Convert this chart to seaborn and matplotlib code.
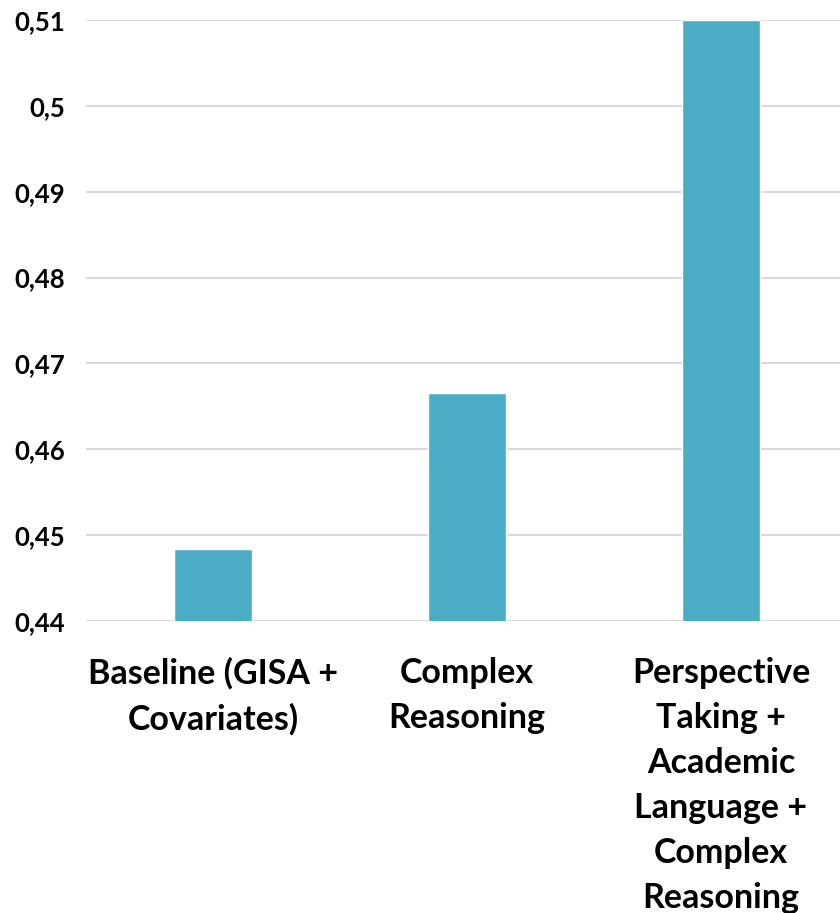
import matplotlib
matplotlib.use("Agg")
import matplotlib.pyplot as plt
from matplotlib.ticker import FuncFormatter
import pandas as pd
import seaborn as sns

# Model comparison values
models = [
    "Baseline (GISA +\nCovariates)",
    "Complex\nReasoning",
    "Perspective\nTaking +\nAcademic\nLanguage +\nComplex\nReasoning",
]
scores = [0.4484, 0.4665, 0.510]
y_ticks = [0.44, 0.45, 0.46, 0.47, 0.48, 0.49, 0.50, 0.51]

df = pd.DataFrame({"model": models, "score": scores})

sns.set_theme(style="white")
plt.rcParams["font.family"] = ["Lato", "DejaVu Sans"]
plt.rcParams["font.weight"] = "bold"

fig = plt.figure(figsize=(8.4, 9.13), dpi=100)
ax = fig.add_axes([86 / 840, 292 / 913, 762 / 840, 601 / 913])

sns.barplot(data=df, x="model", y="score", color="#4BACC6", width=0.31,
            saturation=1, ax=ax, zorder=3)

ax.set_ylim(y_ticks[0], y_ticks[-1])
ax.set_xlim(-0.5, 2.5)
ax.set_yticks(y_ticks)
ax.yaxis.set_major_formatter(FuncFormatter(lambda v, p: f"{v:.2f}".rstrip("0").replace(".", ",")))
ax.grid(axis="y", color="#D9D9D9", linewidth=1.5, zorder=0)
ax.set_axisbelow(True)
for s in ax.spines.values():
    s.set_visible(False)

ax.set_xlabel("")
ax.set_ylabel("")
ax.tick_params(axis="y", length=0, pad=15, labelsize=18.5)
ax.tick_params(axis="x", length=0, pad=26, labelsize=24.5)
for lab in ax.get_yticklabels():
    lab.set_fontweight("bold")
    lab.set_color("black")
for lab in ax.get_xticklabels():
    lab.set_fontweight("bold")
    lab.set_color("black")
    lab.set_linespacing(1.5)
    lab.set_verticalalignment("top")

fig.savefig("out.png", dpi=100)
